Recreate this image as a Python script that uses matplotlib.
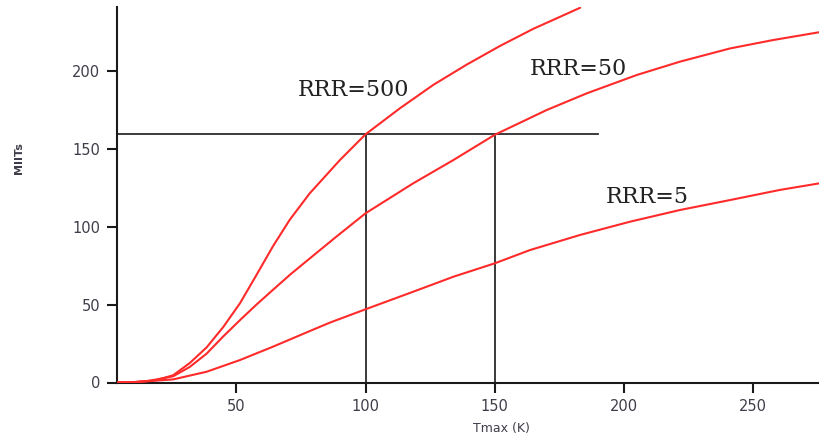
import matplotlib
matplotlib.use("Agg")
import matplotlib.pyplot as plt

# --- data ---
t_rrr500 = [4, 10, 19.1, 25.6, 32, 38.5, 44.9, 51.4, 57.8, 64.2, 70.7, 78.4, 90.1, 100,
            113.3, 126.2, 139.1, 152, 164.9, 183]
m_rrr500 = [0, 0.2, 1.5, 4.7, 12.5, 22.5, 35.5, 50.8, 69, 87.5, 104.5, 121.4, 142.8, 159.3,
            176, 191, 204, 216, 227, 240.5]

t_rrr50 = [4, 10, 16, 25.6, 32, 38.5, 44.9, 51.4, 57.8, 64.2, 71, 78.4, 89, 100, 118.5,
           134, 150, 170.1, 185.6, 205, 221.6, 241, 257.7, 275.5]
m_rrr50 = [0, 0.2, 1.0, 4.0, 10.0, 18.5, 29.5, 40, 50, 59.5, 69.5, 79.6, 94, 108.6, 127.9,
           142.8, 159, 174.9, 185.6, 197.4, 205.9, 214.4, 219.8, 224.8]

t_rrr5 = [4, 10, 25.6, 38.5, 51.4, 64.2, 78.4, 86.3, 100, 118.5, 134, 150, 163.6, 183,
          202.3, 221.6, 241, 260.3, 275.5]
m_rrr5 = [0, 0.1, 2.0, 6.9, 14.4, 23.0, 33.0, 38.5, 47, 58.3, 67.9, 76.5, 85, 94.7,
          103.2, 110.7, 117.1, 123.6, 127.8]

labels = ["RRR=500", "RRR=50", "RRR=5"]
label_pos = [(95.3, 187.7), (182.2, 201.3), (208.9, 119.3)]

ref_miits = 159.3
ref_temps = [100, 150]
ref_line_end = 190

x_ticks = [50, 100, 150, 200, 250]
y_ticks = [0, 50, 100, 150, 200]

# --- figure ---
fig = plt.figure(figsize=(8.19, 4.37), dpi=100)
ax = fig.add_axes([117/819, 1 - 382.5/437, 1 - 117/819, (382.5 - 7.3)/437])
ax.set_xlim(3.85, 275.4)
ax.set_ylim(0, 240.8)

red = "#ff2a2a"
for t, m in [(t_rrr500, m_rrr500), (t_rrr50, m_rrr50), (t_rrr5, m_rrr5)]:
    ax.plot(t, m, color=red, lw=1.5, solid_capstyle="round", solid_joinstyle="round",
            zorder=3)

gray = "#2b2b2b"
ax.plot([3.85, ref_line_end], [ref_miits, ref_miits], color=gray, lw=1.3, zorder=2)
for rt in ref_temps:
    ax.plot([rt, rt], [0, ref_miits], color=gray, lw=1.3, zorder=2)

for txt, (x, y) in zip(labels, label_pos):
    ax.text(x, y, txt, family="DejaVu Serif", fontsize=16, color="#222222",
            ha="center", va="center")

for s in ["top", "right"]:
    ax.spines[s].set_visible(False)
for s in ["left", "bottom"]:
    ax.spines[s].set_linewidth(1.5)
    ax.spines[s].set_color("#1a1a1a")

tick_col = "#3e3e4a"
ax.set_xticks(x_ticks)
ax.set_yticks(y_ticks)
ax.tick_params(axis="both", direction="out", length=7, width=1.5, color="#1a1a1a",
               labelsize=10.5, labelcolor=tick_col, pad=5)

ax.set_xlabel("Tmax (K)", fontsize=9, color=tick_col)
ax.xaxis.set_label_coords((501 - 117) / (819 - 117), -0.105)
ax.set_ylabel("MIITs", fontsize=8, fontweight="bold", color=tick_col)
ax.yaxis.set_label_coords(-(117 - 24) / (819 - 117), (382.5 - 158) / (382.5 - 7.3))

fig.savefig("out.png", dpi=100)
